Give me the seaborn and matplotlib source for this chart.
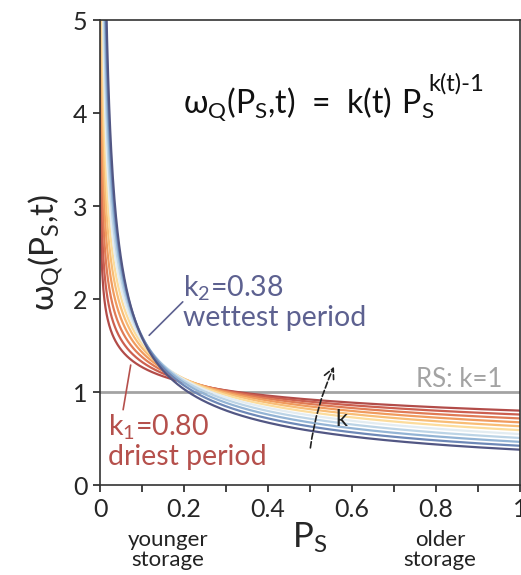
import numpy as np
import pandas as pd
import seaborn as sns
from matplotlib import pyplot as plt

sns.set_style('ticks')
plt.rcParams['font.family'] = ['Lato', 'DejaVu Sans']
plt.rcParams['mathtext.fontset'] = 'dejavusans'

# Shape parameters, from the driest (k1) to the wettest (k2) period.
k_values = [0.80, 0.758, 0.716, 0.674, 0.632, 0.59, 0.548, 0.506, 0.464, 0.422, 0.38]
line_colors = ['#b24c49', '#cc5f4f', '#e07b55', '#f09b5e', '#f8bd76', '#fcdc9c',
               '#e3ecf1', '#bcd4e6', '#93b4d5', '#6d88b7', '#525784']
x_ticks = [0, 0.2, 0.4, 0.6, 0.8, 1]
x_ticklabels = ['0', '0.2', '0.4', '0.6', '0.8', '1']
y_ticks = [0, 1, 2, 3, 4, 5]

ps = np.linspace(0.0005, 1, 800)
frames = [pd.DataFrame({'P': ps, 'w': k * ps ** (k - 1), 'k': str(k)}) for k in k_values]
df = pd.concat(frames, ignore_index=True)

fig = plt.figure(figsize=(5.21, 5.75), dpi=100)
ax = fig.add_axes([0.192, 0.1565, 0.806, 0.8085])

ax.axhline(1, color='#a3a3a3', linewidth=2, zorder=1)
sns.lineplot(ax=ax, data=df, x='P', y='w', hue='k', palette=line_colors,
             linewidth=1.6, legend=False, sort=False, zorder=2)

ax.set_xlim(0, 1)
ax.set_ylim(0, 5)
ax.set_xticks(x_ticks, x_ticklabels)
ax.set_xticks(np.arange(0.1, 1, 0.2), minor=True)
ax.set_yticks(y_ticks, [str(v) for v in y_ticks])
ax.tick_params(which='both', direction='out', length=5, width=1.2, color='#222222',
               labelsize=18, pad=4)
for s in ax.spines.values():
    s.set_color('#333333')
    s.set_linewidth(1.2)

ax.set_xlabel(r'$\mathregular{P_S}$', fontsize=25, labelpad=0)
ax.set_ylabel(r'$\mathregular{\omega_Q(P_S{,}t)}$', fontsize=24, labelpad=6)

# Formula: main part plus a larger, raised exponent.
ax.text(0.198, 4.1, r'$\mathregular{\omega_Q(P_S{,}t)\ =\ k(t)\ P_S}$',
        fontsize=23, va='center', ha='left', color='#111111')
ax.text(0.783, 4.32, 'k(t)-1', fontsize=17, va='center', ha='left', color='#111111')

ax.text(0.162, -0.70, 'younger\nstorage', fontsize=16, ha='center', va='center',
        linespacing=1.0, color='#222222')
ax.text(0.81, -0.70, 'older\nstorage', fontsize=16, ha='center', va='center',
        linespacing=1.0, color='#222222')

wet = '#5d6190'
dry = '#b5504c'
ax.text(0.198, 1.97, r'$\mathregular{k_2}$=0.38' + '\nwettest period', color=wet,
        fontsize=20.5, ha='left', va='center', linespacing=1.1)
ax.plot([0.197, 0.117], [1.97, 1.61], color=wet, linewidth=1.2)
ax.text(0.02, 0.47, r'$\mathregular{k_1}$=0.80' + '\ndriest period', color=dry,
        fontsize=20.5, ha='left', va='center', linespacing=1.1)
ax.plot([0.073, 0.055], [1.29, 0.81], color=dry, linewidth=1.2)

ax.text(0.957, 1.14, 'RS: k=1', color='#a3a3a3', fontsize=18.5, ha='right', va='center')

ax.annotate('', xy=(0.56, 1.3), xytext=(0.5, 0.37),
            arrowprops=dict(arrowstyle='->', linestyle='--', color='#222222', lw=1.2,
                            connectionstyle='arc3,rad=-0.08', mutation_scale=18))
ax.text(0.575, 0.7, 'k', fontsize=17, ha='center', va='center', color='#222222')

fig.savefig('out.png', dpi=100)
